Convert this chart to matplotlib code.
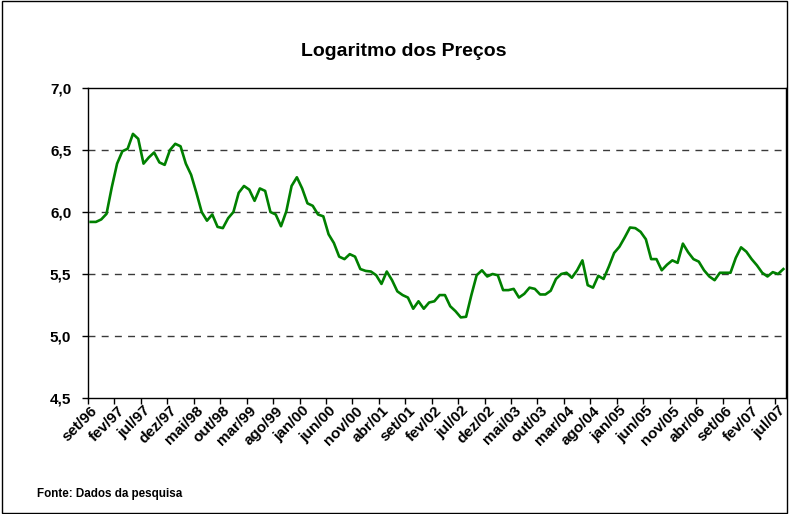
"""Logaritmo dos Preços: série mensal set/96 a ago/07."""
import numpy as np
import matplotlib
matplotlib.use("Agg")
import matplotlib.pyplot as plt
from matplotlib.patches import Rectangle

plt.rcParams["font.family"] = ["Liberation Sans", "DejaVu Sans"]

# valores (um por mês, set/96 ... ago/07)
log_precos = [
    5.92, 5.92, 5.94, 5.985, 6.20, 6.39, 6.49, 6.51, 6.63, 6.59,
    6.39, 6.44, 6.48, 6.40, 6.38, 6.50, 6.55, 6.53, 6.39, 6.30,
    6.155, 6.00, 5.93, 5.98, 5.88, 5.87, 5.95, 6.00, 6.155, 6.21,
    6.18, 6.09, 6.19, 6.17, 6.00, 5.98, 5.885, 6.005, 6.21, 6.28,
    6.19, 6.07, 6.05, 5.98, 5.965, 5.82, 5.75, 5.64, 5.62, 5.66,
    5.64, 5.54, 5.525, 5.52, 5.49, 5.42, 5.52, 5.45, 5.36, 5.33,
    5.31, 5.22, 5.28, 5.22, 5.27, 5.28, 5.33, 5.33, 5.24, 5.20,
    5.15, 5.155, 5.33, 5.49, 5.53, 5.48, 5.50, 5.49, 5.37, 5.37,
    5.38, 5.31, 5.34, 5.39, 5.38, 5.335, 5.335, 5.365, 5.46, 5.50,
    5.51, 5.47, 5.53, 5.61, 5.41, 5.39, 5.485, 5.46, 5.56, 5.67,
    5.72, 5.795, 5.875, 5.87, 5.84, 5.78, 5.62, 5.62, 5.53, 5.575,
    5.61, 5.59, 5.745, 5.675, 5.62, 5.60, 5.53, 5.48, 5.45, 5.51,
    5.51, 5.51, 5.63, 5.715, 5.68, 5.62, 5.57, 5.51, 5.48, 5.515,
    5.50, 5.54,
]
rotulos_x = ["set/96", "fev/97", "jul/97", "dez/97", "mai/98", "out/98", "mar/99",
             "ago/99", "jan/00", "jun/00", "nov/00", "abr/01", "set/01", "fev/02",
             "jul/02", "dez/02", "mai/03", "out/03", "mar/04", "ago/04", "jan/05",
             "jun/05", "nov/05", "abr/06", "set/06", "fev/07", "jul/07"]
ticks_y = [4.5, 5.0, 5.5, 6.0, 6.5, 7.0]

n = len(log_precos)
x = np.arange(n)

fig = plt.figure(figsize=(7.89, 5.14), dpi=100)
ax = fig.add_axes([88 / 789, 116 / 514, 698 / 789, 310 / 514])

# grade tracejada
for v in ticks_y[1:-1]:
    ax.axhline(v, color="#3a3a3a", lw=1.0, dashes=(5, 4.5), zorder=1)

ax.plot(x, log_precos, color="#008000", lw=1.9, zorder=3)

ax.set_xlim(-0.5, n - 0.5)
ax.set_ylim(4.5, 7.0)
ax.set_yticks(ticks_y)
ax.set_yticklabels([("%.1f" % v).replace(".", ",") for v in ticks_y],
                   fontsize=11, fontweight="bold")

# marcas entre categorias, rótulos a cada 5 meses
ax.set_xticks(np.arange(-0.5, n - 1, 5))
ax.set_xticklabels([])
ax.set_xticks(np.arange(0, n, 5)[:len(rotulos_x)], minor=True)
ax.set_xticklabels(rotulos_x, minor=True, rotation=45, ha="right",
                   rotation_mode="anchor", fontsize=11, fontweight="bold")
ax.tick_params(axis="x", which="major", direction="out", length=4, width=1)
ax.tick_params(axis="x", which="minor", length=0, pad=4)
ax.tick_params(axis="y", direction="out", length=4, width=1, pad=8)

for s in ax.spines.values():
    s.set_color("black")
    s.set_linewidth(1.0)

fig.text(404 / 789, 1 - 52 / 514, "Logaritmo dos Preços", ha="center", va="center",
         fontsize=14, fontweight="bold")
fig.text(37 / 789, 1 - 494 / 514, "Fonte: Dados da pesquisa", ha="left", va="center",
         fontsize=8.4, fontweight="bold")

fig.patches.append(Rectangle((0.002, 0.002), 0.996, 0.996, transform=fig.transFigure,
                             fill=False, edgecolor="black", lw=1.0))

fig.savefig("out.png", dpi=100)
